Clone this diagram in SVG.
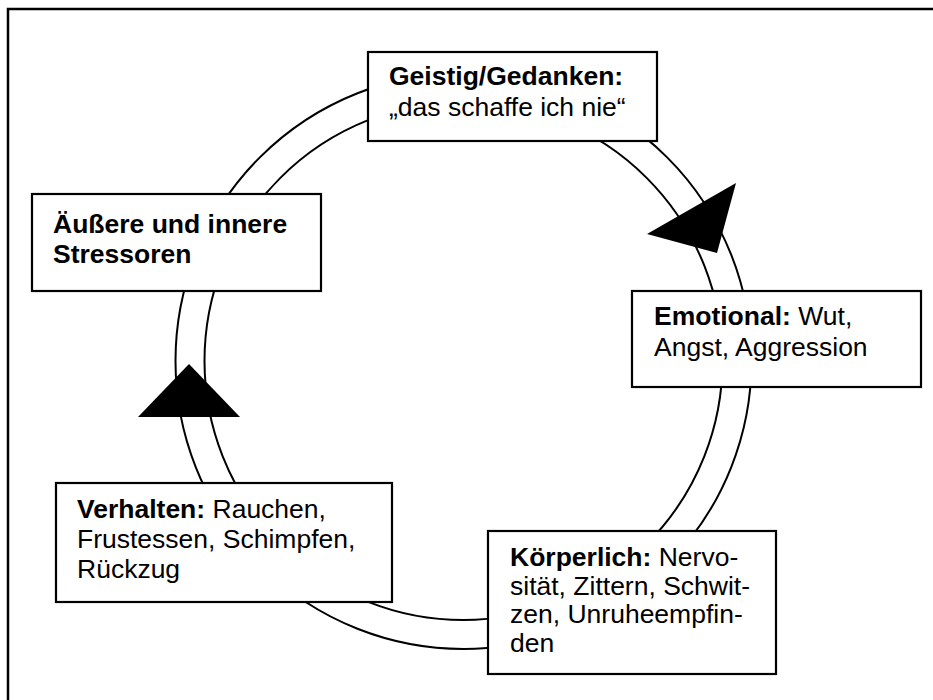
<svg xmlns="http://www.w3.org/2000/svg" width="933" height="700" viewBox="0 0 933 700">
<style>
.box{fill:#fff;stroke:#000;stroke-width:2.2}
.ring{fill:none;stroke:#000;stroke-width:2}
.arrow{fill:#000;stroke:none}
text{font-family:"Liberation Sans",Arial,sans-serif;font-size:26.5px;fill:#000}
.b{font-weight:bold}
</style>
<rect x="0" y="0" width="933" height="700" fill="#fff"/>
<rect id="frame" x="8" y="9" width="1000" height="1000" fill="none" stroke="#000" stroke-width="2.5"/>
<g id="connectors">
<circle class="ring" cx="463.5" cy="361" r="288"/>
<circle class="ring" cx="463.5" cy="361" r="259"/>
<polygon class="arrow" points="736,183 647,234 717,253"/>
<polygon class="arrow" points="189,364 138,417 240,417"/>
</g>
<g id="geistig">
<rect class="box" x="368" y="52" width="289" height="89"/>
<text x="389" y="85"><tspan class="b">Geistig/Gedanken:</tspan></text>
<text x="389" y="116">„das schaffe ich nie“</text>
</g>
<g id="stressoren">
<rect class="box" x="32" y="194" width="289" height="97"/>
<text class="b" x="53" y="233">Äußere und innere</text>
<text class="b" x="53" y="263">Stressoren</text>
</g>
<g id="emotional">
<rect class="box" x="632" y="291" width="289" height="96"/>
<text x="654" y="325"><tspan class="b">Emotional:</tspan> Wut,</text>
<text x="654" y="356">Angst, Aggression</text>
</g>
<g id="verhalten">
<rect class="box" x="56" y="483" width="336" height="119"/>
<text x="77" y="518"><tspan class="b">Verhalten:</tspan> Rauchen,</text>
<text x="77" y="548">Frustessen, Schimpfen,</text>
<text x="77" y="578">Rückzug</text>
</g>
<g id="koerperlich">
<rect class="box" x="488" y="531" width="288" height="143"/>
<text x="510" y="566"><tspan class="b">Körperlich:</tspan> Nervo-</text>
<text x="510" y="595">sität, Zittern, Schwit-</text>
<text x="510" y="623">zen, Unruheempfin-</text>
<text x="510" y="652">den</text>
</g>
</svg>
